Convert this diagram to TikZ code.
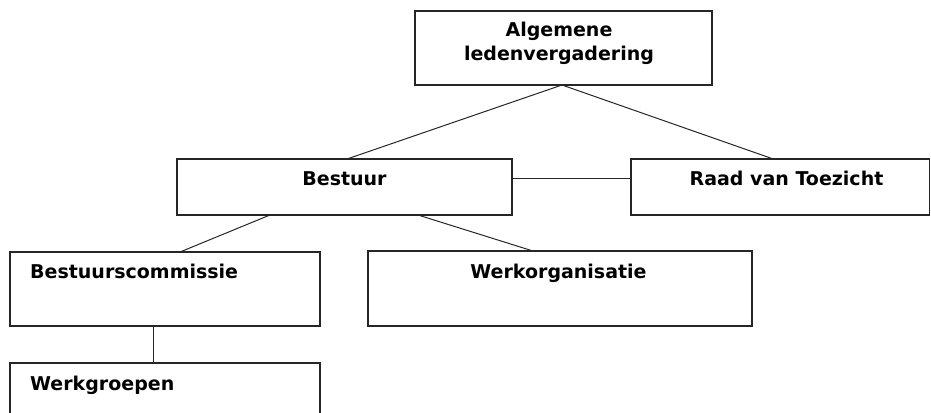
\documentclass[tikz,border=0pt]{standalone}
\usepackage{fontspec}
\setmainfont{DejaVu Sans}
\usetikzlibrary{calc}
\tikzset{
  orgbox/.style={draw=black!85, line width=1.2pt, inner sep=0pt, outer sep=0pt, anchor=north west, rectangle},
  orgtext/.style={inner sep=0pt, font=\fontsize{19}{23}\selectfont\bfseries, text=black},
  link/.style={draw=black!85, line width=1pt}
}
\begin{document}
\begin{tikzpicture}[x=1pt,y=-1pt]
\useasboundingbox (0,0) rectangle (931,412);
\clip (0,0) rectangle (931,412);
% boxes
\node[orgbox, minimum width=297pt, minimum height=74pt] (alv) at (415,11) {};
\node[orgbox, minimum width=335pt, minimum height=56pt] (best) at (177,159) {};
\node[orgbox, minimum width=298.5pt, minimum height=56pt] (raad) at (631,159) {};
\node[orgbox, minimum width=310pt, minimum height=74pt] (bc) at (10,252) {};
\node[orgbox, minimum width=384pt, minimum height=75pt] (wo) at (368,251) {};
\node[orgbox, minimum width=310pt, minimum height=80pt] (wg) at (10,363) {};
% texts
\node[orgtext, anchor=base] (t1) at (559,37) {Algemene};
\node[orgtext, anchor=base] (t2) at (559,60) {ledenvergadering};
\node[orgtext, anchor=base] (t3) at (344.5,185) {Bestuur};
\node[orgtext, anchor=base] (t4) at (786.5,185) {Raad van Toezicht};
\node[orgtext, anchor=base west] (t5) at (30,278) {Bestuurscommissie};
\node[orgtext, anchor=base] (t6) at (558.5,278) {Werkorganisatie};
\node[orgtext, anchor=base west] (t7) at (30,390) {Werkgroepen};
% connectors
\draw[link] ([xshift=-1.5pt]alv.south) -- ([xshift=2.5pt]best.north);
\draw[link] ([xshift=-1.5pt]alv.south) -- ([xshift=-7pt]raad.north);
\draw[link] ([yshift=9pt]best.east) -- ([yshift=9pt]raad.west);
\draw[link] ([xshift=93pt]best.south west) -- ([xshift=170pt]bc.north west);
\draw[link] ([xshift=241pt]best.south west) -- ([xshift=165pt]wo.north west);
\draw[link] ([xshift=-12pt]bc.south) -- ([xshift=-12pt]bc.south |- wg.north);
\end{tikzpicture}
\end{document}
